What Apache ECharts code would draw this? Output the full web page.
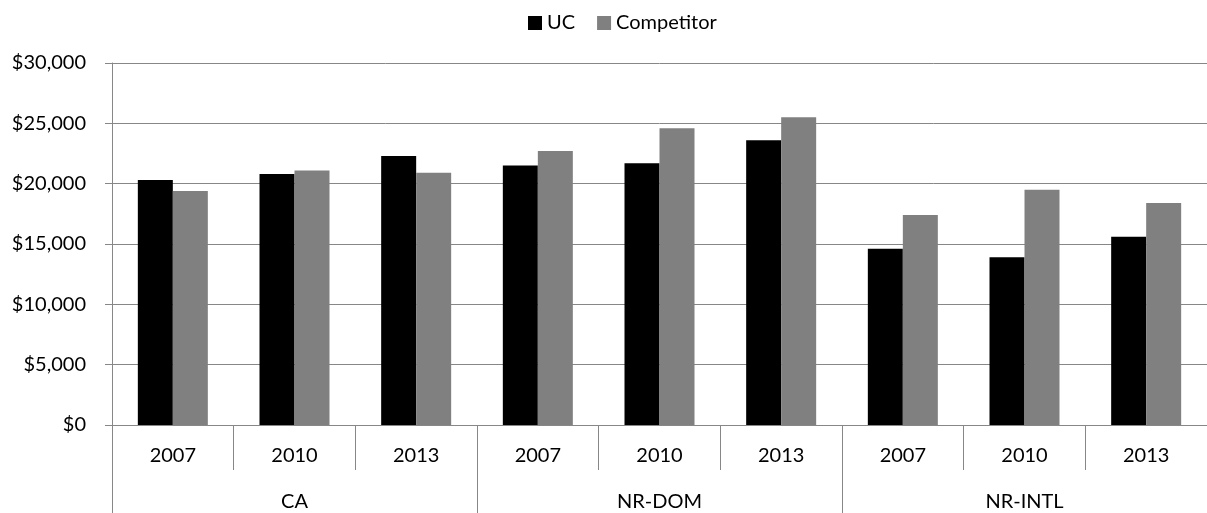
<!DOCTYPE html>
<html>
<head>
<meta charset="utf-8">
<script src="https://cdn.jsdelivr.net/npm/echarts@6/dist/echarts.min.js"></script>
<style>
  html, body { margin: 0; padding: 0; background: #fff; }
  #chart { width: 1207px; height: 513px; }
</style>
</head>
<body>
<div id="chart"></div>
<script>
  // data
  var groups = ['CA', 'NR-DOM', 'NR-INTL']
  var years = ['2007', '2010', '2013']
  var ucValues = [20300, 20800, 22300, 21500, 21700, 23600, 14600, 13900, 15600]
  var competitorValues = [19400, 21100, 20900, 22700, 24600, 25500, 17400, 19500, 18400]
  var yTicks = [0, 5000, 10000, 15000, 20000, 25000, 30000]

  // one category per group/year pair, label shows only the year
  var categories = []
  groups.forEach(function (g) {
    years.forEach(function (y) {
      categories.push(g + '|' + y)
    })
  })

  var gridColor = '#878787'
  var font = 'Lato'

  var chart = echarts.init(document.getElementById('chart'))
  var option = {
    animation: false,
    color: ['#000000', '#808080'],
    textStyle: { fontFamily: font, color: '#000' },
    legend: {
      data: ['UC', 'Competitor'],
      left: 523,
      top: 8,
      icon: 'rect',
      itemWidth: 14,
      itemHeight: 14,
      itemGap: 22,
      textStyle: { fontSize: 20, fontFamily: font, color: '#000' }
    },
    grid: {
      left: 112,
      top: 63,
      bottom: 88,
      width: 1103,
      containLabel: false
    },
    xAxis: [
      {
        type: 'category',
        data: categories,
        position: 'bottom',
        axisLine: { show: true, lineStyle: { color: gridColor, width: 1 } },
        axisTick: { show: true, interval: 0, length: 45, lineStyle: { color: gridColor } },
        axisLabel: {
          interval: 0,
          margin: 21,
          fontSize: 20,
          fontFamily: font,
          color: '#000',
          formatter: function (v) { return v.split('|')[1] }
        }
      },
      {
        type: 'category',
        data: groups,
        position: 'bottom',
        axisLine: { show: false },
        axisTick: { show: true, interval: 0, length: 92, lineStyle: { color: gridColor } },
        axisLabel: {
          interval: 0,
          margin: 67,
          fontSize: 20,
          fontFamily: font,
          color: '#000'
        }
      }
    ],
    yAxis: {
      type: 'value',
      min: yTicks[0],
      max: yTicks[yTicks.length - 1],
      interval: yTicks[1] - yTicks[0],
      axisLine: { show: true, lineStyle: { color: gridColor } },
      axisTick: { show: true, length: 7, lineStyle: { color: gridColor } },
      splitLine: { show: true, lineStyle: { color: gridColor, width: 1 } },
      axisLabel: {
        margin: 26,
        fontSize: 20,
        fontFamily: font,
        color: '#000',
        formatter: function (v) {
          return '$' + v.toString().replace(/\B(?=(\d{3})+(?!\d))/g, ',')
        }
      }
    },
    series: [
      {
        name: 'UC',
        type: 'bar',
        xAxisIndex: 0,
        barWidth: 35,
        barGap: '0%',
        data: ucValues
      },
      {
        name: 'Competitor',
        type: 'bar',
        xAxisIndex: 0,
        barWidth: 35,
        barGap: '0%',
        data: competitorValues
      }
    ]
  }
  chart.setOption(option)
</script>
</body>
</html>
